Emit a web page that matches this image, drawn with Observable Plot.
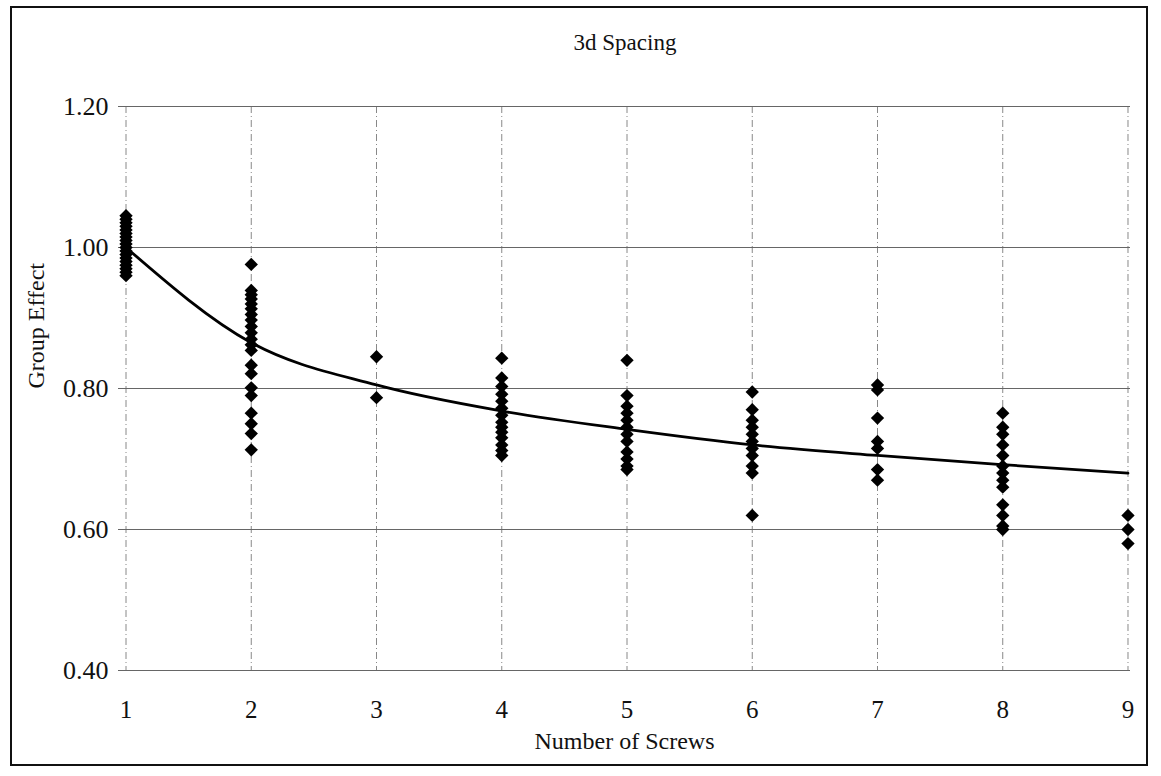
<!DOCTYPE html>
<html>
<head>
<meta charset="utf-8">
<script src="https://cdn.jsdelivr.net/npm/d3@7"></script>
<script src="https://cdn.jsdelivr.net/npm/@observablehq/plot@0.6"></script>
<style>
  html, body { margin: 0; padding: 0; background: #fff; }
  #wrap { position: relative; width: 1161px; height: 776px; font-family: "Liberation Serif", "DejaVu Serif", serif; }
  #border { position: absolute; left: 10px; top: 6px; width: 1138px; height: 760px; border: 2px solid #111; box-sizing: border-box; }
  #chart { position: absolute; left: 0; top: 0; }
  #title { position: absolute; left: 0; width: 1250px; top: 30px; text-align: center; font-size: 23px; color: #111; }
</style>
</head>
<body>
<div id="wrap">
  <div id="border"></div>
  <div id="chart"></div>
  <div id="title">3d Spacing</div>
</div>
<script>
// Screws in group (x) and group effect values (y) per column
const screws1 = [0.96, 0.965, 0.97, 0.975, 0.98, 0.985, 0.99, 0.995, 1.0, 1.005, 1.01, 1.015, 1.02, 1.025, 1.03, 1.035, 1.04, 1.045];
const screws2 = [0.976, 0.939, 0.933, 0.927, 0.92, 0.913, 0.905, 0.897, 0.888, 0.879, 0.87, 0.862, 0.854, 0.833, 0.821, 0.801, 0.79, 0.765, 0.75, 0.736, 0.713];
const screws3 = [0.845, 0.787];
const screws4 = [0.843, 0.815, 0.803, 0.792, 0.782, 0.772, 0.762, 0.752, 0.745, 0.738, 0.73, 0.72, 0.712, 0.705];
const screws5 = [0.84, 0.79, 0.775, 0.765, 0.755, 0.745, 0.735, 0.725, 0.71, 0.7, 0.69, 0.685];
const screws6 = [0.795, 0.77, 0.755, 0.745, 0.735, 0.725, 0.715, 0.705, 0.69, 0.68, 0.62];
const screws7 = [0.805, 0.798, 0.758, 0.725, 0.715, 0.685, 0.67];
const screws8 = [0.765, 0.745, 0.735, 0.72, 0.705, 0.69, 0.68, 0.67, 0.66, 0.635, 0.62, 0.605, 0.6];
const screws9 = [0.62, 0.6, 0.58];

// Fitted curve
const curveX = [1, 2, 3, 4, 5, 6, 7, 8, 9];
const curveY = [1.0, 0.865, 0.805, 0.768, 0.742, 0.72, 0.705, 0.692, 0.68];

const xTicks = [1, 2, 3, 4, 5, 6, 7, 8, 9];
const yTicks = [0.4, 0.6, 0.8, 1.0, 1.2];

const columns = [screws1, screws2, screws3, screws4, screws5, screws6, screws7, screws8, screws9];
const points = columns.flatMap((vals, i) => vals.map(v => ({x: i + 1, y: v})));
const curve = curveX.map((x, i) => ({x, y: curveY[i]}));

const chart = Plot.plot({
  width: 1161,
  height: 776,
  marginLeft: 118,
  marginRight: 31,
  marginTop: 106,
  marginBottom: 106,
  style: {fontFamily: '"Liberation Serif", serif', fontSize: "25px", color: "#111", background: "transparent"},
  x: {domain: [0.94, 9.02], ticks: xTicks, tickFormat: d => String(d), label: null},
  y: {domain: [0.4, 1.2], ticks: yTicks, tickFormat: d => d.toFixed(2), label: null},
  marks: [
    Plot.ruleX(xTicks, {stroke: "#888", strokeWidth: 1, strokeDasharray: "7,3,1,3"}),
    Plot.ruleY(yTicks, {stroke: "#666", strokeWidth: 1.2}),
    Plot.axisX({ticks: xTicks, tickSize: 0, tickPadding: 30, fontSize: 25, tickFormat: d => String(d), label: null}),
    Plot.axisY({ticks: yTicks, tickSize: 0, tickPadding: 10, fontSize: 26, tickFormat: d => d.toFixed(2), label: null}),
    Plot.line(curve, {x: "x", y: "y", curve: "monotone-x", stroke: "#000", strokeWidth: 2.8}),
    Plot.dot(points, {x: "x", y: "y", symbol: "diamond2", r: 6, fill: "#000", stroke: "none"}),
    Plot.text(["Number of Screws"], {frameAnchor: "bottom", dy: 78, fontSize: 24, fill: "#111"}),
    Plot.text(["Group Effect"], {frameAnchor: "left", dx: -82, rotate: -90, fontSize: 24, fill: "#111"})
  ]
});
document.getElementById("chart").appendChild(chart);
</script>
</body>
</html>
